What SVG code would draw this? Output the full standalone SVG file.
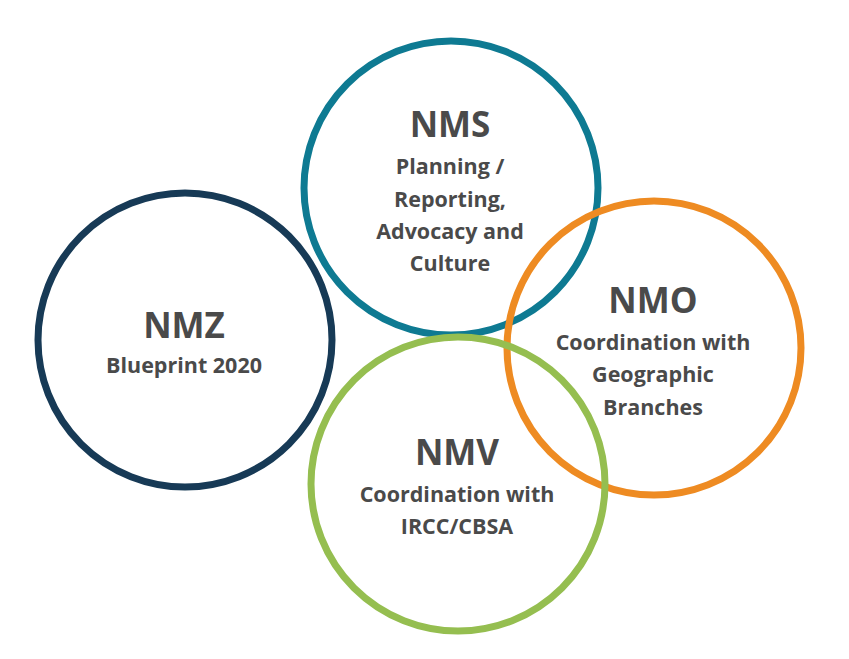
<svg xmlns="http://www.w3.org/2000/svg" width="849" height="659" viewBox="0 0 849 659">
<style>
.c{fill:none;stroke-width:7}
.t{font-family:"Open Sans","Liberation Sans",sans-serif;font-weight:bold;fill:#4a4a4a;text-anchor:middle}
.h{font-size:35px}
.s{font-size:21.5px}
</style>
<rect width="849" height="659" fill="#ffffff"/>
<g id="NMZ">
<circle class="c" cx="185" cy="340" r="147" stroke="#173a56"/>
<text class="t h" x="184" y="338">NMZ</text>
<text class="t s" x="184" y="373">Blueprint 2020</text>
</g>
<g id="NMS">
<circle class="c" cx="451" cy="188" r="147" stroke="#0e7a92"/>
<text class="t h" x="450" y="137">NMS</text>
<text class="t s" x="450" y="174">Planning /</text>
<text class="t s" x="450" y="207">Reporting,</text>
<text class="t s" x="450" y="239">Advocacy and</text>
<text class="t s" x="450" y="271">Culture</text>
</g>
<g id="NMO">
<circle class="c" cx="654" cy="348" r="147" stroke="#ee8b22"/>
<text class="t h" x="653" y="313">NMO</text>
<text class="t s" x="653" y="350">Coordination with</text>
<text class="t s" x="653" y="382">Geographic</text>
<text class="t s" x="653" y="415">Branches</text>
</g>
<g id="NMV">
<circle class="c" cx="458" cy="484" r="147" stroke="#95be50"/>
<text class="t h" x="457" y="465">NMV</text>
<text class="t s" x="457" y="502">Coordination with</text>
<text class="t s" x="457" y="534">IRCC/CBSA</text>
</g>
<g id="connectors"/>
</svg>
